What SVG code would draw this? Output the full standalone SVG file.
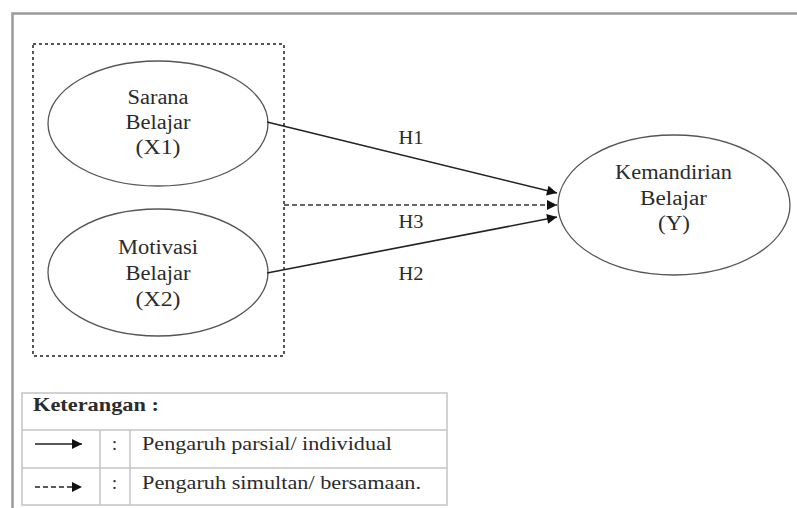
<svg xmlns="http://www.w3.org/2000/svg" width="797" height="508" viewBox="0 0 797 508" font-family="'Liberation Serif', 'Times New Roman', Times, serif">
<defs>
<style>
text{font-family:'Liberation Serif','Times New Roman',Times,serif;fill:#2b2b2b}
.t{font-size:20px;text-anchor:middle}
.h{font-size:18px;text-anchor:middle}
.lg{font-size:18px}
.node{fill:#fff;stroke:#555;stroke-width:1.3}
.conn{stroke:#222;stroke-width:1.6;fill:none}
.dash{stroke:#666;stroke-width:1.8;fill:none;stroke-dasharray:5 3}
.grid{stroke:#c4c4c4;stroke-width:1.5;fill:none}
</style>
<marker id="ah" viewBox="0 0 10 10" refX="10" refY="5" markerWidth="11" markerHeight="10" markerUnits="userSpaceOnUse" orient="auto">
<path d="M0,0 L10,5 L0,10 z" fill="#111"/>
</marker>
</defs>
<rect width="797" height="508" fill="#fff"/>
<path d="M12.5,508 V13.5 H797" fill="none" stroke="#9a9a9a" stroke-width="2.5"/>
<g id="group-box">
<rect x="33" y="44" width="251" height="312" fill="none" stroke="#555" stroke-width="2" stroke-dasharray="3 3"/>
</g>
<g id="node-x1">
<ellipse class="node" cx="158" cy="123.5" rx="110" ry="62.5"/>
<text class="t" x="158" y="104" textLength="61" lengthAdjust="spacingAndGlyphs">Sarana</text>
<text class="t" x="158" y="129" textLength="65" lengthAdjust="spacingAndGlyphs">Belajar</text>
<text class="t" x="158" y="154" textLength="45" lengthAdjust="spacingAndGlyphs">(X1)</text>
</g>
<g id="node-x2">
<ellipse class="node" cx="158" cy="272.5" rx="110" ry="63.5"/>
<text class="t" x="158" y="254" textLength="80" lengthAdjust="spacingAndGlyphs">Motivasi</text>
<text class="t" x="158" y="280" textLength="65" lengthAdjust="spacingAndGlyphs">Belajar</text>
<text class="t" x="158" y="306" textLength="45" lengthAdjust="spacingAndGlyphs">(X2)</text>
</g>
<g id="node-y">
<ellipse class="node" cx="674" cy="205" rx="116" ry="70"/>
<text class="t" x="673.5" y="179" textLength="117" lengthAdjust="spacingAndGlyphs">Kemandirian</text>
<text class="t" x="673.5" y="205" textLength="67" lengthAdjust="spacingAndGlyphs">Belajar</text>
<text class="t" x="674" y="230" textLength="32" lengthAdjust="spacingAndGlyphs">(Y)</text>
</g>
<g id="connectors">
<line class="conn" x1="267" y1="122" x2="557" y2="193" marker-end="url(#ah)"/>
<line class="dash" x1="284" y1="205" x2="557" y2="205" marker-end="url(#ah)"/>
<line class="conn" x1="267" y1="273" x2="557" y2="217" marker-end="url(#ah)"/>
<text class="h" x="411" y="144" textLength="25" lengthAdjust="spacingAndGlyphs">H1</text>
<text class="h" x="411" y="228" textLength="25" lengthAdjust="spacingAndGlyphs">H3</text>
<text class="h" x="411" y="280" textLength="25" lengthAdjust="spacingAndGlyphs">H2</text>
</g>
<g id="legend">
<rect class="grid" x="22" y="393" width="425" height="112"/>
<line class="grid" x1="22" y1="430" x2="447" y2="430"/>
<line class="grid" x1="22" y1="468" x2="447" y2="468"/>
<line class="grid" x1="100" y1="430" x2="100" y2="505"/>
<line class="grid" x1="130" y1="430" x2="130" y2="505"/>
<text class="lg" x="33" y="411" font-weight="bold" textLength="126" lengthAdjust="spacingAndGlyphs">Keterangan :</text>
<line class="conn" x1="35" y1="444" x2="82" y2="444" marker-end="url(#ah)"/>
<line class="conn" x1="35" y1="487" x2="82" y2="487" stroke-dasharray="5 3" marker-end="url(#ah)"/>
<text class="lg" x="112" y="450">:</text>
<text class="lg" x="112" y="489">:</text>
<text class="lg" x="142" y="450" textLength="250" lengthAdjust="spacingAndGlyphs">Pengaruh parsial/ individual</text>
<text class="lg" x="142" y="489" textLength="279" lengthAdjust="spacingAndGlyphs">Pengaruh simultan/ bersamaan.</text>
</g>
</svg>
